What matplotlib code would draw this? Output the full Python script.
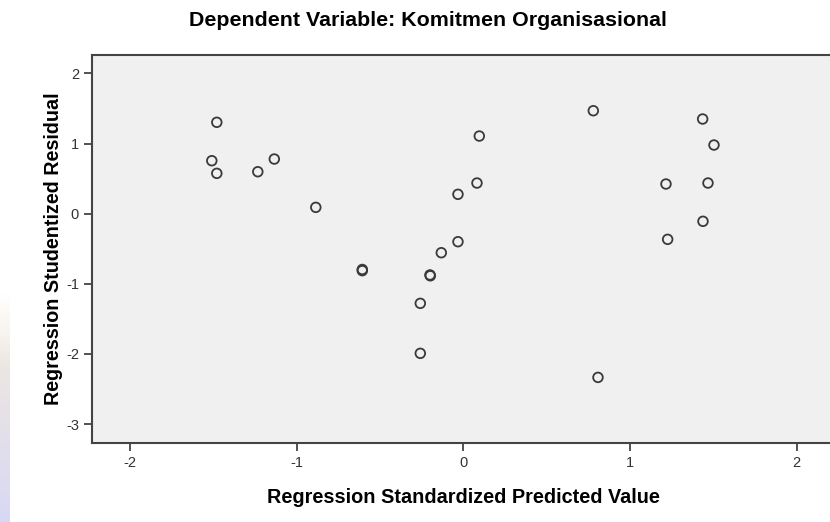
import numpy as np
import matplotlib.pyplot as plt

predicted = [-1.479, -1.509, -1.479, -1.233, -1.134, -0.885, -0.606, -0.606,
             -0.258, -0.258, -0.200, -0.198, -0.132, -0.032, -0.032, 0.082,
             0.096, 0.780, 0.808, 1.216, 1.226, 1.436, 1.438, 1.468, 1.504]
residual = [1.304, 0.756, 0.576, 0.599, 0.780, 0.091, -0.795, -0.812,
            -1.278, -1.991, -0.873, -0.885, -0.556, -0.399, 0.277, 0.438,
            1.108, 1.469, -2.334, 0.424, -0.365, 1.351, -0.108, 0.438, 0.980]

x_ticks = [-2, -1, 0, 1, 2]
y_ticks = [-3, -2, -1, 0, 1, 2]

plt.rcParams['font.family'] = ['Liberation Sans', 'DejaVu Sans']
plt.rcParams['axes.unicode_minus'] = False

fig = plt.figure(figsize=(8.3, 5.22), dpi=100)

# faint watermark strip on the left edge of the original screenshot
strip = fig.add_axes([0, 0, 0.012, 0.44])
grad = np.linspace(0, 1, 100).reshape(100, 1)
alpha = np.clip((1 - grad) * 3, 0, 1) * 0.75
rgba = np.dstack([0.80 + 0.15 * grad, 0.80 + 0.10 * grad, 0.95 - 0.15 * grad, alpha])
strip.imshow(rgba, aspect='auto', origin='lower')
strip.axis('off')

ax = fig.add_axes([0.1112, 0.1513, 0.894, 0.7439])
ax.set_facecolor('#f0f0f0')

ax.scatter(predicted, residual, s=48, facecolors='none', edgecolors='#3a3a3a',
           linewidths=1.3, zorder=3)

ax.set_xlim(-2.226, 2.226)
ax.set_ylim(-3.27, 2.268)
ax.set_xticks(x_ticks)
ax.set_yticks(y_ticks)
ax.tick_params(direction='out', length=6, width=1.3, color='#444444',
               labelsize=10.5, labelcolor='#333333')

for s in ax.spines.values():
    s.set_color('#444444')
    s.set_linewidth(1.5)

ax.set_xlabel('Regression Standardized Predicted Value', fontsize=14.3,
              fontweight='bold', labelpad=13)
ax.set_ylabel('Regression Studentized Residual', fontsize=14.2,
              fontweight='bold', labelpad=2)
fig.text(0.516, 0.96, 'Dependent Variable: Komitmen Organisasional',
         ha='center', va='center', fontsize=15.4, fontweight='bold')

fig.savefig('out.png', dpi=100)
